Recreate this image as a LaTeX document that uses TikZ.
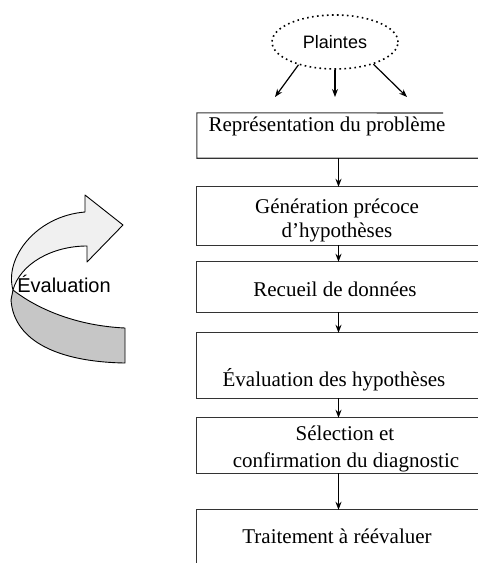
\documentclass[tikz,border=0pt]{standalone}
\usepackage{fontspec}
\setmainfont{Liberation Serif}
\setsansfont{Liberation Sans}
\usetikzlibrary{arrows.meta,shapes.geometric}
\begin{document}
\begin{tikzpicture}[x=1pt,y=-1pt,
  boxn/.style={rectangle,inner sep=0pt,minimum width=283pt},
  boxline/.style={draw=black!80,line width=1.1pt},
  lbl/.style={anchor=base,inner sep=0pt,font=\fontsize{21}{24}\selectfont},
  flow/.style={draw=black,line width=1.2pt,-{Stealth[length=8pt,width=6pt]}},
  band/.style={draw=black,line width=0.9pt,line join=round}
]
\useasboundingbox (0,0) rectangle (478,563);

% Plaintes
\node[ellipse,draw,dash pattern=on 1.6pt off 3.4pt,line width=1.6pt,minimum width=126pt,minimum height=54pt,inner sep=0pt,
      font=\sffamily\fontsize{18}{20}\selectfont] (pl) at (335,42) {Plaintes};
\coordinate (e1) at (275,97);
\coordinate (e2) at (335,97);
\coordinate (e3) at (407,97);
\draw[flow] (pl.212) -- (e1);
\draw[flow] (pl.270) -- (e2);
\draw[flow] (pl.330) -- (e3);

% boxes (open on the right)
\node[boxn,minimum height=45pt] (b1) at (338.5,135.5) {};
\node[boxn,minimum height=58pt] (b2) at (338.5,216) {};
\node[boxn,minimum height=50pt] (b3) at (338.5,287) {};
\node[boxn,minimum height=65pt] (b4) at (338.5,365.5) {};
\node[boxn,minimum height=55pt] (b5) at (338.5,445.5) {};
\node[boxn,minimum height=65pt] (b6) at (338.5,542.5) {};

\draw[boxline] (443,113) -- (b1.north west) -- (b1.south west) -- (b1.south east);
\foreach \b in {b2,b3,b4,b5,b6}
  \draw[boxline] (\b.north east) -- (\b.north west) -- (\b.south west) -- (\b.south east);

% box texts
\node[lbl] (t1) at (327,131) {Représentation du problème};
\node[lbl] (t2a) at (337,213) {Génération précoce};
\node[lbl] (t2b) at (337,237) {d'hypothèses};
\node[lbl] (t3) at (335,296) {Recueil de données};
\node[lbl] (t4) at (334,386) {Évaluation des hypothèses};
\node[lbl] (t5a) at (345,440) {Sélection et};
\node[lbl] (t5b) at (346,467) {confirmation du diagnostic};
\node[lbl] (t6) at (337,543) {Traitement à réévaluer};

% connectors
\draw[flow] (b1.south) -- (b2.north);
\draw[flow] (b2.south) -- (b3.north);
\draw[flow] (b3.south) -- (b4.north);
\draw[flow] (b4.south) -- (b5.north);
\draw[flow] (b5.south) -- (b6.north);

% curved evaluation arrow
\path[band,fill=gray!45]
  (13,290) .. controls (40,311) and (80,326) .. (125,328)
  -- (125,363) .. controls (60,362) and (14,342) .. (11,300) -- cycle;
\path[band,fill=gray!12]
  (85,212) -- (85,195) -- (123,225) -- (87,262) -- (87,246)
  .. controls (52,246) and (20,264) .. (13,290)
  .. controls (4,258) and (36,216) .. (85,212) -- cycle;
\node[anchor=base,inner sep=0pt,font=\sffamily\fontsize{20}{22}\selectfont] (ev) at (64,292) {Évaluation};
\end{tikzpicture}
\end{document}
